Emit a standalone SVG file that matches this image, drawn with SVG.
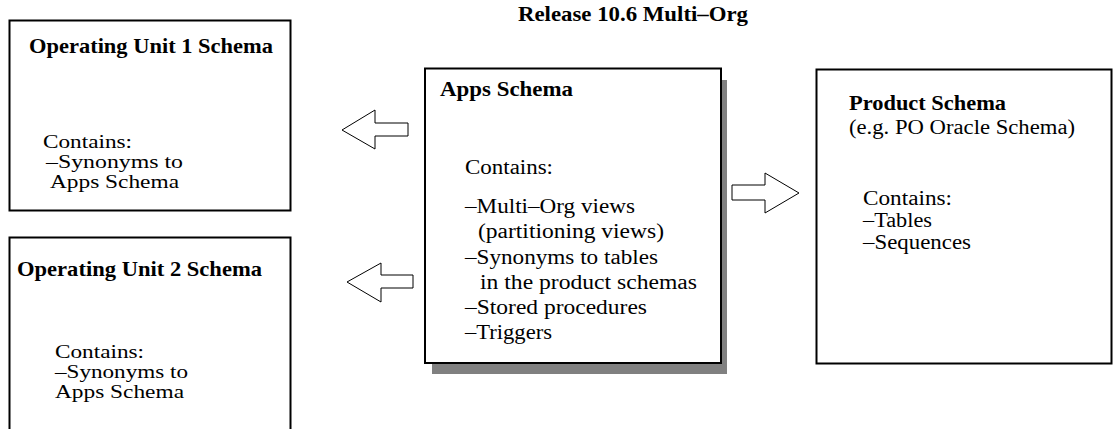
<svg xmlns="http://www.w3.org/2000/svg" width="1113" height="429" viewBox="0 0 1113 429">
<style>
.box{fill:#fff;stroke:#000;stroke-width:2}
.shadow{fill:#808080;stroke:none}
.arrow{fill:#fff;stroke:#000;stroke-width:1;stroke-linejoin:miter}
text{font-family:"Liberation Serif","Times New Roman",serif;font-size:20.5px;fill:#000}
.b{font-weight:bold;font-size:21px}
.s{font-size:18px}
</style>
<rect width="1113" height="429" fill="#fff"/>
<text class="b" x="518" y="21" textLength="230" lengthAdjust="spacingAndGlyphs">Release 10.6 Multi–Org</text>
<g id="ou1">
<rect class="box" x="9.5" y="20.5" width="281" height="190"/>
<text class="b" x="29" y="53" textLength="244" lengthAdjust="spacingAndGlyphs">Operating Unit 1 Schema</text>
<text class="s" x="43" y="148" textLength="89" lengthAdjust="spacingAndGlyphs">Contains:</text>
<text class="s" x="46" y="168" textLength="137" lengthAdjust="spacingAndGlyphs">–Synonyms to</text>
<text class="s" x="50" y="188" textLength="129" lengthAdjust="spacingAndGlyphs">Apps Schema</text>
</g>
<g id="ou2">
<rect class="box" x="9.5" y="237.5" width="281" height="200"/>
<text class="b" x="17" y="276" textLength="245" lengthAdjust="spacingAndGlyphs">Operating Unit 2 Schema</text>
<text class="s" x="55" y="358" textLength="89" lengthAdjust="spacingAndGlyphs">Contains:</text>
<text class="s" x="55" y="378" textLength="133" lengthAdjust="spacingAndGlyphs">–Synonyms to</text>
<text class="s" x="55" y="398" textLength="129" lengthAdjust="spacingAndGlyphs">Apps Schema</text>
</g>
<g id="apps">
<rect class="shadow" x="432" y="80" width="295" height="294"/>
<rect class="box" x="425" y="68.5" width="296" height="294.5"/>
<text class="b" x="440" y="96" textLength="133" lengthAdjust="spacingAndGlyphs">Apps Schema</text>
<text x="465" y="174" textLength="88" lengthAdjust="spacingAndGlyphs">Contains:</text>
<text x="465" y="213" textLength="170" lengthAdjust="spacingAndGlyphs">–Multi–Org views</text>
<text x="478" y="238" textLength="186" lengthAdjust="spacingAndGlyphs">(partitioning views)</text>
<text x="465" y="264" textLength="193" lengthAdjust="spacingAndGlyphs">–Synonyms to tables</text>
<text x="480" y="289" textLength="217" lengthAdjust="spacingAndGlyphs">in the product schemas</text>
<text x="465" y="314" textLength="182" lengthAdjust="spacingAndGlyphs">–Stored procedures</text>
<text x="465" y="339" textLength="87" lengthAdjust="spacingAndGlyphs">–Triggers</text>
</g>
<g id="product">
<rect class="box" x="816.5" y="69.5" width="295" height="294"/>
<text class="b" x="849" y="110" textLength="157" lengthAdjust="spacingAndGlyphs">Product Schema</text>
<text x="849" y="134" textLength="226" lengthAdjust="spacingAndGlyphs">(e.g. PO Oracle Schema)</text>
<text x="863" y="205" textLength="89" lengthAdjust="spacingAndGlyphs">Contains:</text>
<text x="863" y="227" textLength="69" lengthAdjust="spacingAndGlyphs">–Tables</text>
<text x="863" y="249" textLength="108" lengthAdjust="spacingAndGlyphs">–Sequences</text>
</g>
<g id="connectors">
<polygon class="arrow" points="342,130 375,110 375,123 408,123 408,136 375,136 375,149"/>
<polygon class="arrow" points="347,282 381,263 381,275 413,275 413,288 381,288 381,302"/>
<polygon class="arrow" points="799,193 765,173 765,185 732,185 732,200 765,200 765,213"/>
</g>
</svg>
